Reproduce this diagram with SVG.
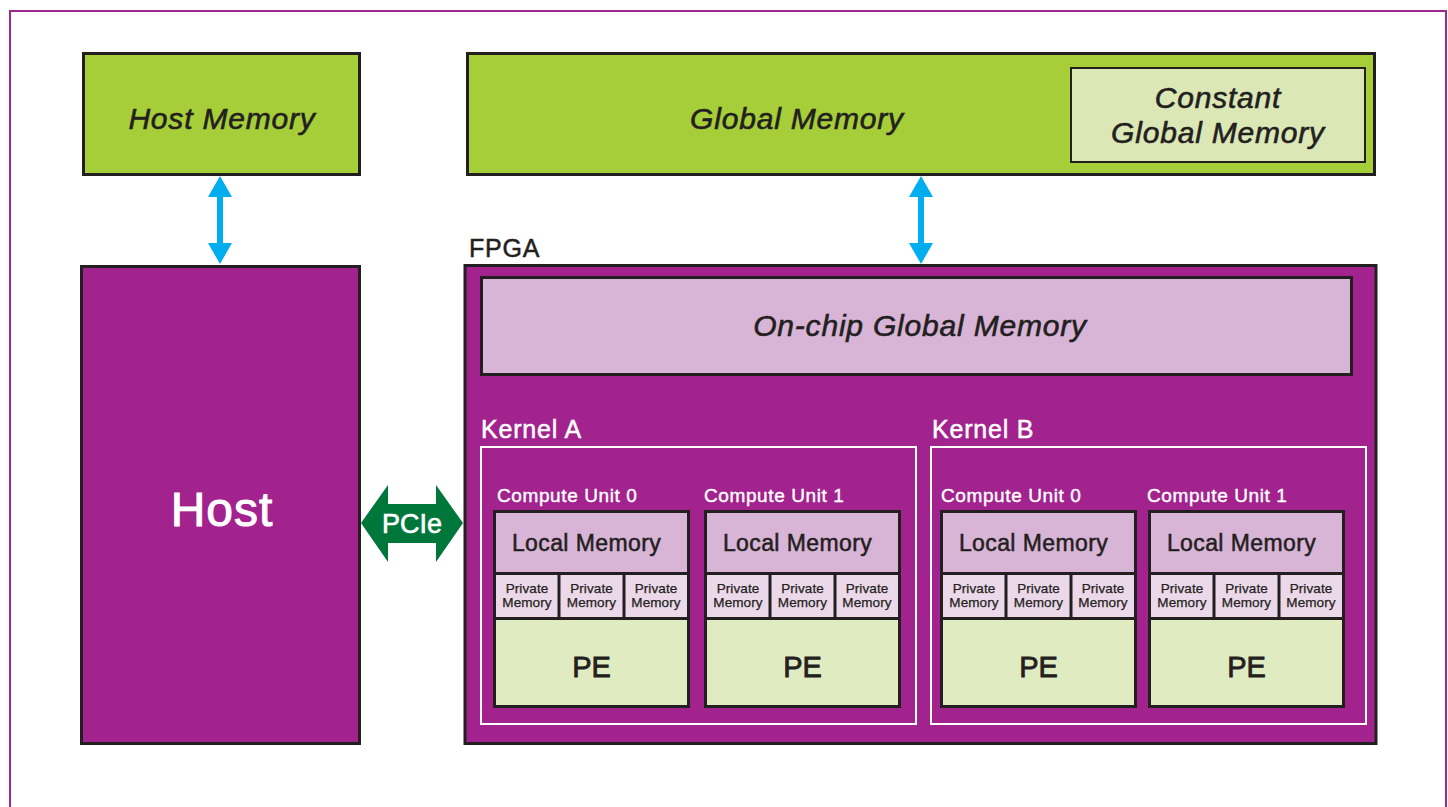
<svg xmlns="http://www.w3.org/2000/svg" width="1448" height="807" viewBox="0 0 1448 807">
<style>
text{font-family:"Liberation Sans",Arial,sans-serif}
.blk{stroke:#231f20;stroke-width:3}
.lime{fill:#a6ce39}
.purp{fill:#a3238e}
.lil{fill:#d8b5d6}
.priv{fill:#ebd8e9}
.pe{fill:#e1ebc1}
.it{font-style:italic;font-size:30px;fill:#231f20;stroke:#231f20;stroke-width:0.6;letter-spacing:0.8px;text-anchor:middle}
.wl{fill:#fff;stroke:#fff;stroke-width:0.5;font-size:25px;letter-spacing:0.8px}
.cu{fill:#fff;stroke:#fff;stroke-width:0.4;font-size:19px;letter-spacing:0.6px}
.lm{fill:#231f20;stroke:#231f20;stroke-width:0.5;font-size:23px;letter-spacing:0.4px;text-anchor:middle}
.pm{fill:#231f20;stroke:#231f20;stroke-width:0.25;font-size:13.5px;letter-spacing:0.1px;text-anchor:middle}
.pet{fill:#231f20;stroke:#231f20;stroke-width:0.8;font-size:29px;text-anchor:middle}
.kbox{fill:none;stroke:#fff;stroke-width:2}
.cbox{fill:none;stroke:#231f20;stroke-width:3}
</style>
<defs>
<g id="cu">
<rect x="0" y="0" width="194" height="62" class="lil"/>
<rect x="0" y="62" width="194" height="45" class="priv"/>
<rect x="0" y="107" width="194" height="88" class="pe"/>
<line x1="0" y1="62" x2="194" y2="62" stroke="#231f20" stroke-width="3"/>
<line x1="0" y1="107" x2="194" y2="107" stroke="#231f20" stroke-width="3"/>
<line x1="64.5" y1="62" x2="64.5" y2="107" stroke="#231f20" stroke-width="3"/>
<line x1="129.5" y1="62" x2="129.5" y2="107" stroke="#231f20" stroke-width="3"/>
<rect x="0" y="0" width="194" height="195" class="cbox"/>
<text x="92" y="39" class="lm">Local Memory</text>
<text x="32.5" y="81" class="pm">Private</text>
<text x="32.5" y="95" class="pm">Memory</text>
<text x="97" y="81" class="pm">Private</text>
<text x="97" y="95" class="pm">Memory</text>
<text x="161.5" y="81" class="pm">Private</text>
<text x="161.5" y="95" class="pm">Memory</text>
<text x="97" y="165" class="pet">PE</text>
</g>
</defs>
<rect x="0" y="0" width="1448" height="807" fill="#fff"/>
<rect id="frame" x="10" y="11" width="1436" height="830" fill="none" stroke="#9b2a8c" stroke-width="2"/>

<g id="host-memory">
<rect x="83.5" y="53.5" width="276" height="121" class="lime blk"/>
<text x="222" y="129" class="it">Host Memory</text>
</g>

<g id="global-memory">
<rect x="467.5" y="53.5" width="907" height="121" class="lime blk"/>
<text x="797" y="129" class="it">Global Memory</text>
</g>

<g id="constant-global-memory">
<rect x="1071" y="68" width="294" height="94" fill="#dbe8b6" stroke="#231f20" stroke-width="2"/>
<text x="1218" y="108" class="it">Constant</text>
<text x="1218" y="143" class="it">Global Memory</text>
</g>

<g id="host">
<rect x="81.5" y="266.5" width="278" height="477" class="purp blk"/>
<text x="222" y="526" fill="#fff" stroke="#fff" stroke-width="1" font-size="48" letter-spacing="1" text-anchor="middle">Host</text>
</g>

<g id="fpga">
<text x="469" y="257" fill="#231f20" stroke="#231f20" stroke-width="0.5" font-size="25" letter-spacing="0.8">FPGA</text>
<rect x="465" y="265.5" width="911" height="478" class="purp blk"/>
</g>

<g id="onchip-global-memory">
<rect x="481.5" y="277.5" width="870" height="97" class="lil blk"/>
<text x="920" y="336" class="it">On-chip Global Memory</text>
</g>

<g id="kernel-a">
<text x="481" y="438" class="wl">Kernel A</text>
<rect x="481" y="447" width="435" height="277" class="kbox"/>
</g>

<g id="kernel-b">
<text x="932" y="438" class="wl">Kernel B</text>
<rect x="931" y="447" width="435" height="277" class="kbox"/>
</g>

<g id="ka-cu0">
<text x="497" y="502" class="cu">Compute Unit 0</text>
<use href="#cu" x="494.5" y="511.5"/>
</g>
<g id="ka-cu1">
<text x="704" y="502" class="cu">Compute Unit 1</text>
<use href="#cu" x="705.5" y="511.5"/>
</g>
<g id="kb-cu0">
<text x="941" y="502" class="cu">Compute Unit 0</text>
<use href="#cu" x="941.5" y="511.5"/>
</g>
<g id="kb-cu1">
<text x="1147" y="502" class="cu">Compute Unit 1</text>
<use href="#cu" x="1149.5" y="511.5"/>
</g>

<g id="connectors">
<polygon points="220,176 232,197 223,197 223,243 232,243 220,264 208,243 217,243 217,197 208,197" fill="#00aeef"/>
<polygon points="921,176 933,197 924,197 924,243 933,243 921,264 909,243 918,243 918,197 909,197" fill="#00aeef"/>
<g id="pcie">
<polygon points="361,523 388,485 388,504 436,504 436,485 463,523 436,562 436,543 388,543 388,562" fill="#00773a"/>
<text x="412" y="533" fill="#fff" stroke="#fff" stroke-width="0.6" font-size="27" text-anchor="middle">PCIe</text>
</g>
</g>
</svg>
